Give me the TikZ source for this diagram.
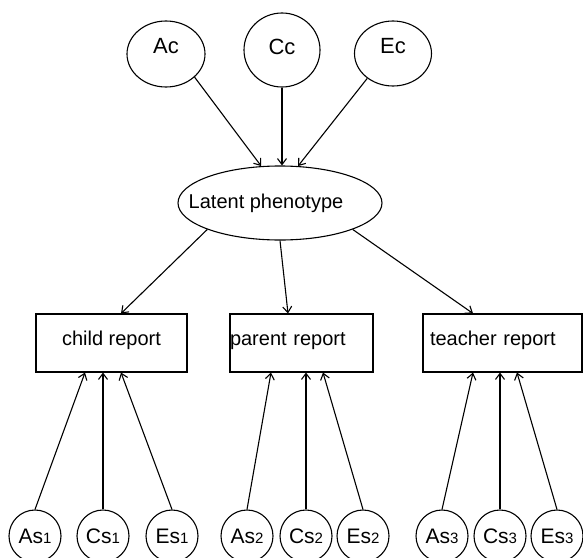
\documentclass[tikz,border=0pt]{standalone}
\usepackage{fontspec}
\setmainfont{Liberation Sans}
\usetikzlibrary{arrows.meta,shapes.geometric,positioning}

\newcommand{\smalldig}[1]{{\fontsize{15}{15}\selectfont #1}}

\begin{document}
\begin{tikzpicture}[x=1pt,y=-1pt,
    latent/.style={draw,ellipse,line width=1.1pt,inner sep=0pt},
    report/.style={draw,rectangle,line width=1.1pt,minimum height=58pt,
      text height=14pt,text depth=9pt,font=\fontsize{20}{24}\selectfont},
    spec/.style={draw,circle,line width=1.1pt,minimum size=52pt,inner sep=0pt,
      font=\fontsize{21}{24}\selectfont},
    link/.style={line width=1.1pt,-{Straight Barb[length=6pt,width=9pt]}}]
    \useasboundingbox (0,0) rectangle (583,557);
    % common factors
    \node[latent,minimum width=78pt,minimum height=66pt,text depth=16pt,
      font=\fontsize{22}{24}\selectfont] (Ac) at (166,54) {Ac};
    \node[latent,minimum width=76pt,minimum height=74pt,text depth=6pt,
      font=\fontsize{22}{24}\selectfont] (Cc) at (282,50) {Cc};
    \node[latent,minimum width=77pt,minimum height=65pt,text depth=16pt,
      font=\fontsize{22}{24}\selectfont] (Ec) at (393,53.5) {Ec};
    \node[latent,minimum width=204pt,minimum height=74pt,
      font=\fontsize{20}{24}\selectfont] (lat) at (280,203)
      {\makebox[0pt]{Latent phenotype\hspace{28pt}}};
    % reports
    \node[report,minimum width=151pt] (child) at (111.5,343) {child report};
    \node[report,text width=143pt,inner xsep=0pt,align=left] (parent) at (301.5,343) {parent report};
    \node[report,text width=145pt,inner xsep=7pt,align=left] (teacher) at (502.5,343) {teacher report};
    % specific factors
    \foreach \x/\nm/\lbl in {
      35/As1/As\smalldig{1}, 103/Cs1/Cs\smalldig{1}, 172/Es1/Es\smalldig{1},
      247/As2/As\smalldig{2}, 306/Cs2/Cs\smalldig{2}, 363/Es2/Es\smalldig{2},
      442/As3/As\smalldig{3}, 500/Cs3/Cs\smalldig{3}, 557/Es3/Es\smalldig{3}}{
      \node[spec] (\nm) at (\x,536) {\lbl};
    }
    \draw[link] (Ac.-39) -- (lat.117);
    \draw[link] (Cc) -- (Cc |- lat.north);
    \draw[link] (Ec.224) -- (lat.64);
    \draw[link] (lat.200) -- ([xshift=9.5pt]child.north);
    \draw[link] (lat.south) -- ([xshift=-13.5pt]parent.north);
    \draw[link] (lat.-20) -- ([xshift=-29.5pt]teacher.north);
    \foreach \b/\i/\da/\de in {child/1/-26.5/9.5, parent/2/-30.5/21.5, teacher/3/-29.5/14.5}{
      \draw[link] (As\i.north) -- ([xshift=\da pt]\b.south);
      \draw[link] (Cs\i) -- (Cs\i |- \b.south);
      \draw[link] (Es\i.north) -- ([xshift=\de pt]\b.south);
    }
\end{tikzpicture}
\end{document}
